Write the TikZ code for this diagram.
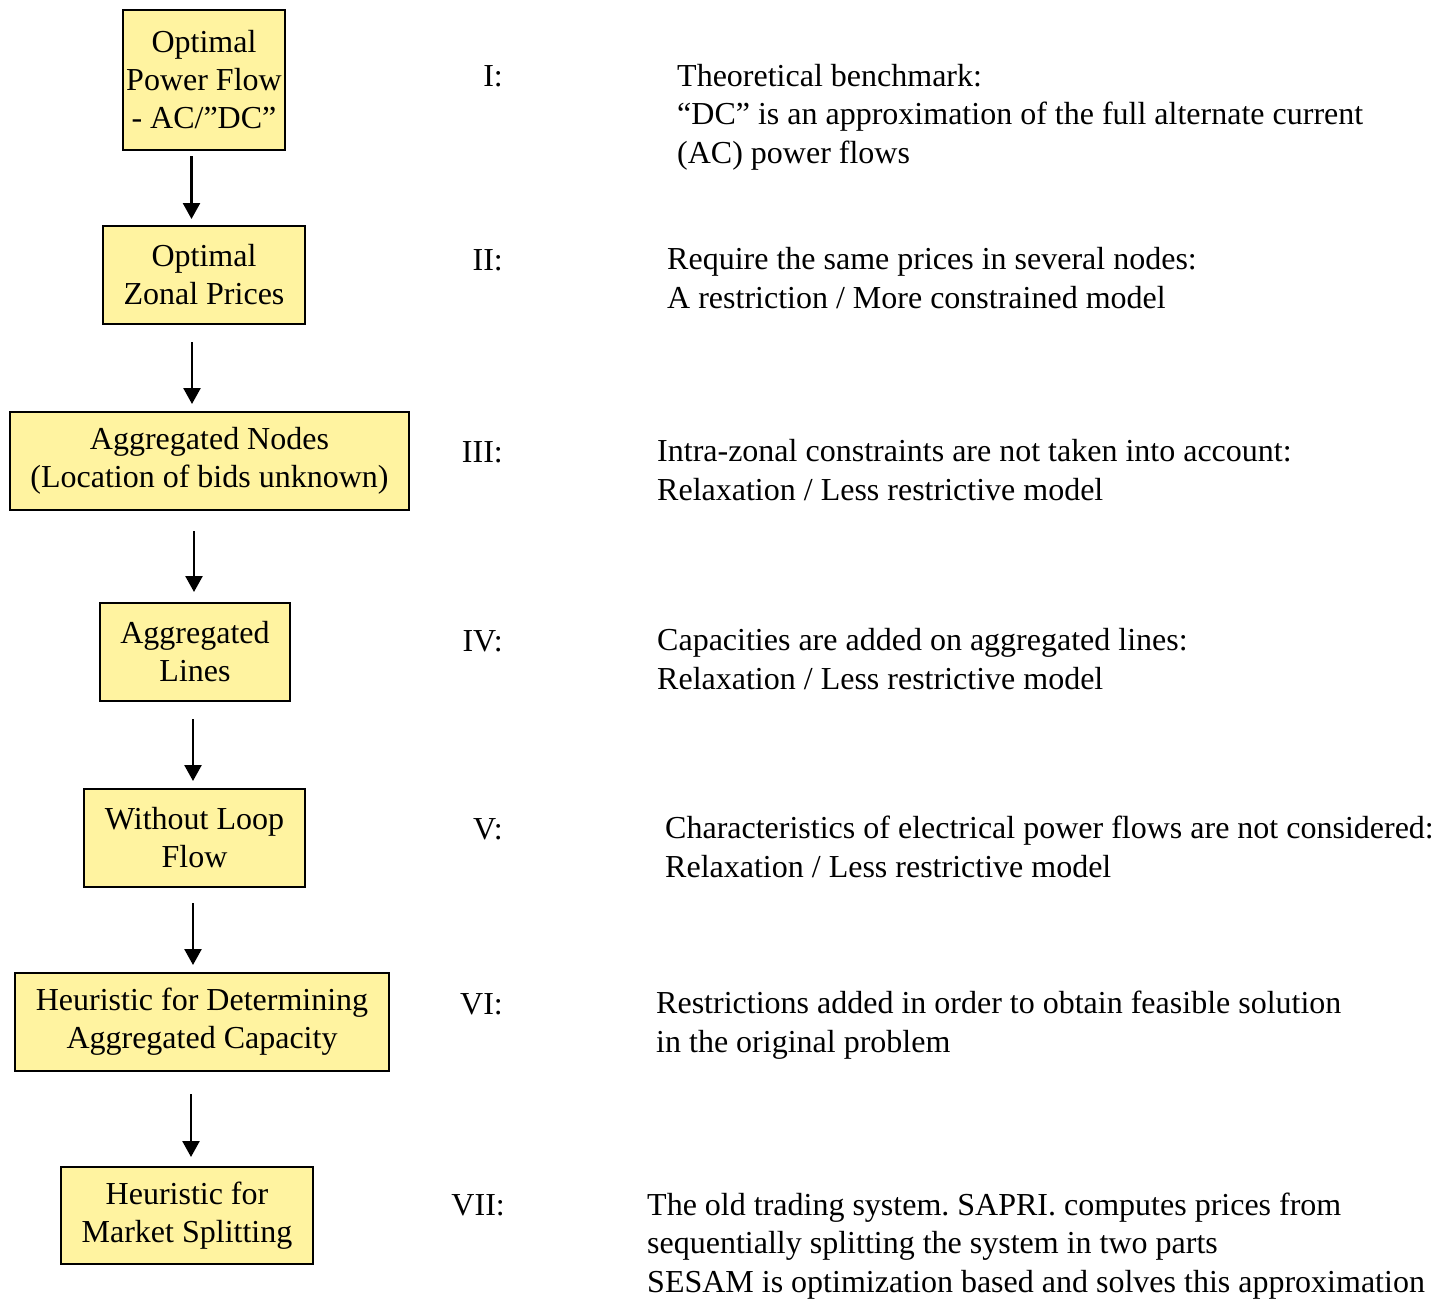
\documentclass[tikz,border=0pt]{standalone}
\usepackage{fontspec}
\setmainfont{Liberation Serif}
\usetikzlibrary{arrows.meta,calc}
\definecolor{boxfill}{RGB}{255,243,160}
\frenchspacing
\begin{document}
\begin{tikzpicture}[x=1pt,y=-1pt,
  box/.style={draw=black,line width=2pt,fill=boxfill,align=center,inner sep=0pt,
    font=\fontsize{32}{38}\selectfont},
  arr/.style={line width=2.5pt,-{Triangle[width=17pt,length=16pt]}},
  desc/.style={anchor=base west,align=left,inner sep=0pt,font=\fontsize{32}{38.5}\selectfont},
  num/.style={anchor=base east,inner sep=0pt,font=\fontsize{32}{38.5}\selectfont}]
\useasboundingbox (0,0) rectangle (1439,1299);
\node[box,minimum width=162,minimum height=140] (b1) at (204,80) {Optimal\\Power Flow\\- AC/”DC”};
\node[box,minimum width=202,minimum height=98] (b2) at (204,275) {Optimal\\Zonal Prices};
\node[box,minimum width=399,minimum height=98] (b3) at (209.5,461) {Aggregated Nodes\\(Location of bids unknown)};
\node[box,minimum width=190,minimum height=98] (b4) at (195,652) {Aggregated\\Lines};
\node[box,minimum width=221,minimum height=98] (b5) at (194.5,838) {Without Loop\\Flow};
\node[box,minimum width=374,minimum height=98] (b6) at (202,1022) {Heuristic for Determining\\Aggregated Capacity};
\node[box,minimum width=252,minimum height=97] (b7) at (187,1215.5) {Heuristic for\\Market Splitting};
\coordinate (x1) at (191.5,0);
\coordinate (x2) at (192,0);
\coordinate (x3) at (194,0);
\coordinate (x4) at (193,0);
\coordinate (x5) at (193,0);
\coordinate (x6) at (191,0);
\draw[arr] ($(b1.south -| x1)+(0,5)$) -- ($(b2.north -| x1)+(0,-6)$);
\draw[arr] ($(b2.south -| x2)+(0,17)$) -- ($(b3.north -| x2)+(0,-7)$);
\draw[arr] ($(b3.south -| x3)+(0,20)$) -- ($(b4.north -| x3)+(0,-10)$);
\draw[arr] ($(b4.south -| x4)+(0,17)$) -- ($(b5.north -| x4)+(0,-7)$);
\draw[arr] ($(b5.south -| x5)+(0,15)$) -- ($(b6.north -| x5)+(0,-7)$);
\draw[arr] ($(b6.south -| x6)+(0,22)$) -- ($(b7.north -| x6)+(0,-9)$);
\node[num] (n1) at (503,86) {I:};
\node[num] (n2) at (503,270) {II:};
\node[num] (n3) at (503,462) {III:};
\node[num] (n4) at (503,651) {IV:};
\node[num] (n5) at (503,839) {V:};
\node[num] (n6) at (503,1014) {VI:};
\node[num] (n7) at (505,1215) {VII:};
\node[desc] (d1) at (677,163) {Theoretical benchmark:\\“DC” is an approximation of the full alternate current\\(AC) power flows};
\node[desc] (d2) at (667,308) {Require the same prices in several nodes:\\A restriction / More constrained model};
\node[desc] (d3) at (657,500) {Intra-zonal constraints are not taken into account:\\Relaxation / Less restrictive model};
\node[desc] (d4) at (657,689) {Capacities are added on aggregated lines:\\Relaxation / Less restrictive model};
\node[desc] (d5) at (665,877) {Characteristics of electrical power flows are not considered:\\Relaxation / Less restrictive model};
\node[desc] (d6) at (656,1052) {Restrictions added in order to obtain feasible solution\\in the original problem};
\node[desc] (d7) at (647,1292) {The old trading system. SAPRI. computes prices from\\sequentially splitting the system in two parts\\SESAM is optimization based and solves this approximation};
\end{tikzpicture}
\end{document}
